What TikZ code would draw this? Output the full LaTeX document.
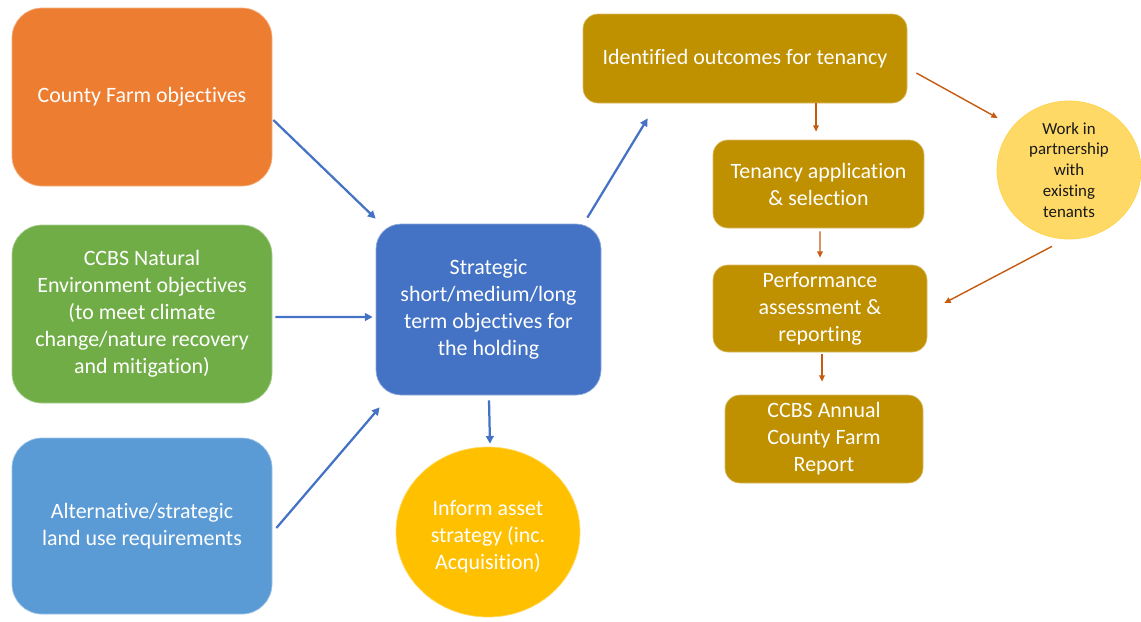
\documentclass[tikz,border=0pt]{standalone}
\usepackage{fontspec}
\setmainfont{Carlito}[RawFeature={-liga;-clig;-dlig;-calt}]
\usetikzlibrary{arrows.meta,calc,shapes.geometric}

\definecolor{cforange}{HTML}{ED7D31}
\definecolor{cfgreen}{HTML}{70AD47}
\definecolor{cfsky}{HTML}{5B9BD5}
\definecolor{cfblue}{HTML}{4472C4}
\definecolor{cfamber}{HTML}{FFC000}
\definecolor{cfgold}{HTML}{BF9000}
\definecolor{cfpale}{HTML}{FFD966}
\definecolor{cfrust}{HTML}{C55A11}

\newcommand\pxu{0.025cm}

\tikzset{
  bigbox/.style={rectangle, rounded corners=30*\pxu, fill=#1, draw=#1!60!white,
    line width=0.5pt, text=white, align=center, inner sep=0pt,
    font=\fontsize{15.6}{19.2}\selectfont},
  goldbox/.style={rectangle, rounded corners=15*\pxu, fill=cfgold, draw=cfgold!60!white,
    line width=0.5pt, text=white, align=center, inner sep=0pt,
    font=\fontsize{15.6}{19.2}\selectfont},
  bluearrow/.style={draw=cfblue, line width=1.6pt,
    -{Triangle[length=5.5pt,width=5.5pt]}},
  rustarrow/.style={draw=cfrust, line width=1pt,
    -{Triangle[length=4.5pt,width=4pt]}},
}

\begin{document}
\begin{tikzpicture}[x=\pxu, y=-\pxu]
  \useasboundingbox (0,0) rectangle (1141,621);

  % input objectives
  \node[bigbox=cforange, minimum width=260*\pxu, minimum height=178*\pxu]
    (farm) at (142,97) {County Farm objectives};
  \node[bigbox=cfgreen, minimum width=260*\pxu, minimum height=178*\pxu]
    (nature) at (142,314) {CCBS Natural\\Environment objectives\\(to meet climate\\change/nature recovery\\and mitigation)};
  \node[bigbox=cfsky, minimum width=260*\pxu, minimum height=176*\pxu]
    (landuse) at (142,526) {Alternative/strategic\\land use requirements};

  % central objectives
  \node[bigbox=cfblue, rounded corners=25*\pxu, minimum width=225*\pxu, minimum height=171*\pxu]
    (strategy) at (488.5,309.5) {Strategic\\short/medium/long\\term objectives for\\the holding};

  \node[ellipse, fill=cfamber, draw=cfamber!60!white, line width=0.5pt,
    minimum width=184*\pxu, minimum height=170*\pxu] (asset) at (488,532) {};
  \node[text=white, align=center, inner sep=0pt,
    font=\fontsize{15.6}{19.2}\selectfont] (assettext) at (488,537)
    {Inform asset\\strategy (inc.\\Acquisition)};

  % tenancy process
  \node[goldbox, minimum width=324*\pxu, minimum height=89*\pxu]
    (outcomes) at (745,58.5) {Identified outcomes for tenancy};
  \node[goldbox, minimum width=211*\pxu, minimum height=88*\pxu]
    (tenancy) at (818.5,184) {Tenancy application\\\& selection};
  \node[goldbox, minimum width=214*\pxu, minimum height=87*\pxu]
    (perform) at (820,308.5) {Performance\\assessment \&\\reporting};
  \node[goldbox, minimum width=198*\pxu, minimum height=88*\pxu]
    (report) at (824,439) {CCBS Annual\\County Farm\\Report};

  \node[ellipse, fill=cfpale, draw=cfamber!70!white, line width=0.5pt, text=black!90,
    align=center, inner sep=0pt, minimum width=144*\pxu, minimum height=138*\pxu,
    font=\fontsize{12}{14.8}\selectfont]
    (partner) at (1069,170) {Work in\\partnership\\with\\existing\\tenants};

  % connectors into and out of the central objectives
  \draw[bluearrow] ($(farm.east)+(1,23)$) -- ($(strategy.north west)+(0,-5)$);
  \draw[bluearrow] ($(nature.east)+(3,3)$) -- ($(strategy.west)+(-3,7.5)$);
  \draw[bluearrow] ($(landuse.east)+(4,2)$) -- ($(strategy.south west)+(4,12)$);
  \draw[bluearrow] ($(strategy.north east)+(-14,-6)$) -- ($(outcomes.south west)+(65,15)$);
  \draw[bluearrow] ($(strategy.south)+(0.5,5)$) -- ($(asset.north)+(2,-3)$);

  % tenancy process connectors
  \draw[rustarrow] ($(outcomes.south)+(71,0)$) -- ($(tenancy.north)+(-2.5,-8)$);
  \draw[rustarrow] ($(outcomes.east)+(9,14.5)$) -- ($(partner.west)+(1,-52)$);
  \draw[rustarrow] ($(tenancy.south)+(1.5,3)$) -- ($(perform.north)+(0,-7)$);
  \draw[rustarrow] ($(partner.south)+(-17,7)$) -- ($(perform.east)+(17,-5.5)$);
  \draw[rustarrow] ($(perform.south)+(2,2)$) -- ($(report.north)+(-2,-13)$);
\end{tikzpicture}
\end{document}
